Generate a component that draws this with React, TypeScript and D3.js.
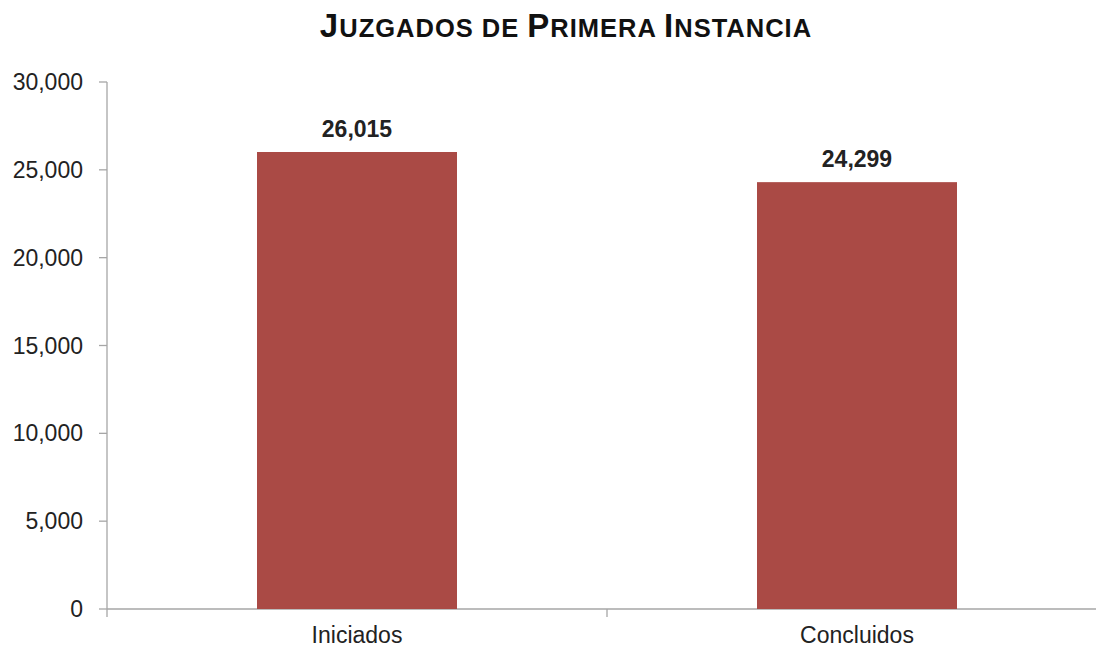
import React from "react";
import * as d3 from "d3";

const categories = ["Iniciados", "Concluidos"];
const values = [26015, 24299];
const yTicks = [0, 5000, 10000, 15000, 20000, 25000, 30000];
const titleWords = ["Juzgados", "de", "Primera", "Instancia"];

export default function App() {
  const W = 1096, H = 649;
  const left = 107, right = 1107, top = 82, bottom = 609;
  const x = d3.scaleBand<string>().domain(categories).range([left, right]).padding(0);
  const y = d3.scaleLinear().domain([0, 30000]).range([bottom, top]);
  const fmt = d3.format(",");
  const bw = x.bandwidth();
  const font = "'Liberation Sans', Arial, sans-serif";
  const big = 33, small = 25.5;
  const titleSpans: React.ReactNode[] = [];
  titleWords.forEach((w, i) => {
    const first = w[0];
    const rest = w.slice(1);
    if (i > 0) titleSpans.push(<tspan key={"s" + i} fontSize={small}>{" "}</tspan>);
    if (first === first.toUpperCase()) {
      titleSpans.push(<tspan key={"b" + i} fontSize={big}>{first}</tspan>);
      titleSpans.push(<tspan key={"r" + i} fontSize={small}>{rest.toUpperCase()}</tspan>);
    } else {
      titleSpans.push(<tspan key={"r" + i} fontSize={small}>{w.toUpperCase()}</tspan>);
    }
  });
  return (
    <svg width={W} height={H} style={{ position: "absolute", left: 0, top: 0, background: "#fff" }} fontFamily={font}>
      <text x={566} y={37} textAnchor="middle" fontWeight="bold" fill="#111" letterSpacing={1}>{titleSpans}</text>
      {/* y axis */}
      <line x1={left} x2={left} y1={top} y2={bottom + 8} stroke="#a6a6a6" strokeWidth={1.3} />
      {yTicks.map(t => (
        <g key={t}>
          <line x1={left - 8} x2={left} y1={y(t)} y2={y(t)} stroke="#a6a6a6" strokeWidth={1.3} />
          <text x={83} y={y(t) + 8} textAnchor="end" fontSize={23} fill="#222">{fmt(t)}</text>
        </g>
      ))}
      {/* x axis */}
      <line x1={left} x2={W} y1={bottom} y2={bottom} stroke="#a6a6a6" strokeWidth={1.3} />
      {categories.map((c, i) => (
        <line key={"t" + i} x1={(x(c) as number) + bw} x2={(x(c) as number) + bw} y1={bottom} y2={bottom + 8} stroke="#a6a6a6" strokeWidth={1.3} />
      ))}
      {categories.map((c, i) => {
        const x0 = (x(c) as number) + bw * 0.3;
        return (
          <g key={c}>
            <rect x={x0} y={y(values[i])} width={bw * 0.4} height={bottom - y(values[i])} fill="#AA4A45" />
            <text x={(x(c) as number) + bw / 2} y={y(values[i]) - 15} textAnchor="middle" fontSize={23} fontWeight="bold" fill="#222">{fmt(values[i])}</text>
            <text x={(x(c) as number) + bw / 2} y={643} textAnchor="middle" fontSize={23} fill="#222">{c}</text>
          </g>
        );
      })}
    </svg>
  );
}
